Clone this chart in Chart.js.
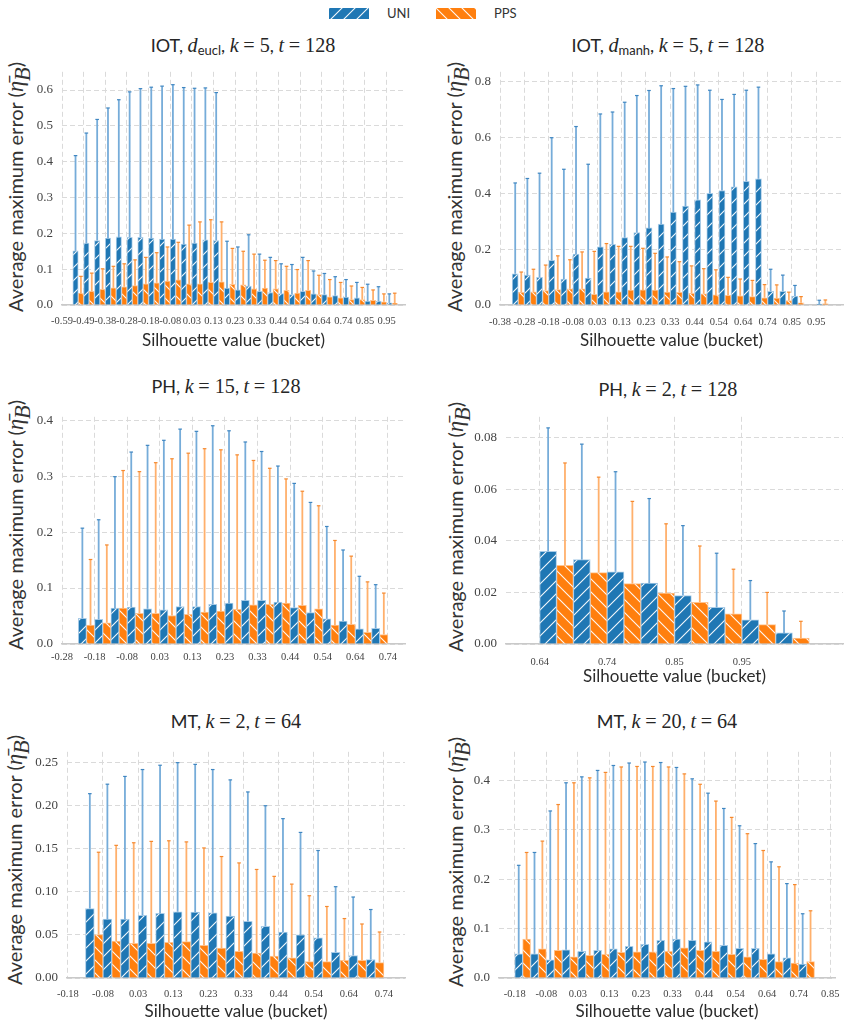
<!DOCTYPE html>
<html>
<head>
<meta charset="utf-8">
<script src="https://cdn.jsdelivr.net/npm/chart.js@4.4.1/dist/chart.umd.min.js"></script>
<style>
  body { margin:0; width:850px; height:1026px; position:relative; overflow:hidden; background:#fff; font-family:Lato, sans-serif; color:#262626; }
  canvas { position:absolute; }
  .title, .ylab, .leg { position:absolute; white-space:nowrap; }
  .title { font-size:18px; transform:translate(-50%,-50%); }
  .ylab { font-size:20px; color:#333; transform:translate(-50%,-50%) rotate(-90deg); }
  .m { font-family:'Liberation Serif', serif; font-style:italic; font-size:1.12em; }
  .r { font-family:'Liberation Serif', serif; font-size:1.12em; }
  sub { font-size:0.72em; vertical-align:-0.3em; line-height:0; }
  .leg { font-size:13px; top:5px; color:#333; }
</style>
</head>
<body>
<canvas id="swUni" width="40" height="11" style="left:329px;top:8px"></canvas>
<div class="leg" style="left:387px">UNI</div>
<canvas id="swPps" width="40" height="11" style="left:436px;top:8px"></canvas>
<div class="leg" style="left:494px">PPS</div>

<div class="title" style="left:243px;top:45px">IOT, <span class="m">d</span><sub>eucl</sub>, <span class="m">k</span> <span class="r">= 5</span>, <span class="m">t</span> <span class="r">= 128</span></div>
<div class="title" style="left:668px;top:45px">IOT, <span class="m">d</span><sub>manh</sub>, <span class="m">k</span> <span class="r">= 5</span>, <span class="m">t</span> <span class="r">= 128</span></div>
<div class="title" style="left:226px;top:386px">PH, <span class="m">k</span> <span class="r">= 15</span>, <span class="m">t</span> <span class="r">= 128</span></div>
<div class="title" style="left:668px;top:389px">PH, <span class="m">k</span> <span class="r">= 2</span>, <span class="m">t</span> <span class="r">= 128</span></div>
<div class="title" style="left:236px;top:721px">MT, <span class="m">k</span> <span class="r">= 2</span>, <span class="m">t</span> <span class="r">= 64</span></div>
<div class="title" style="left:667px;top:721px">MT, <span class="m">k</span> <span class="r">= 20</span>, <span class="m">t</span> <span class="r">= 64</span></div>

<div class="ylab" style="left:16px;top:187px">Average maximum error (<span class="m">η̄</span><sub class="m">B</sub>)</div>
<div class="ylab" style="left:455px;top:187px">Average maximum error (<span class="m">η̄</span><sub class="m">B</sub>)</div>
<div class="ylab" style="left:16px;top:525px">Average maximum error (<span class="m">η̄</span><sub class="m">B</sub>)</div>
<div class="ylab" style="left:456px;top:527px">Average maximum error (<span class="m">η̄</span><sub class="m">B</sub>)</div>
<div class="ylab" style="left:15px;top:860px">Average maximum error (<span class="m">η̄</span><sub class="m">B</sub>)</div>
<div class="ylab" style="left:456px;top:862px">Average maximum error (<span class="m">η̄</span><sub class="m">B</sub>)</div>

<canvas id="c1" width="425" height="305" style="left:0px;top:55px"></canvas>
<canvas id="c2" width="425" height="305" style="left:425px;top:55px"></canvas>
<canvas id="c3" width="425" height="300" style="left:0px;top:400px"></canvas>
<canvas id="c4" width="425" height="300" style="left:425px;top:400px"></canvas>
<canvas id="c5" width="425" height="291" style="left:0px;top:735px"></canvas>
<canvas id="c6" width="425" height="291" style="left:425px;top:735px"></canvas>

<script>
// bucket edges: silhouette range split into 39 buckets
const bucketEdges = ['-1.00','-0.95','-0.90','-0.85','-0.79','-0.74','-0.69','-0.64','-0.59','-0.54',
  '-0.49','-0.44','-0.38','-0.33','-0.28','-0.23','-0.18','-0.13','-0.08','-0.03',
  '0.03','0.08','0.13','0.18','0.23','0.28','0.33','0.38','0.44','0.49',
  '0.54','0.59','0.64','0.69','0.74','0.79','0.85','0.90','0.95','1.00'];

// IOT, d_eucl, k=5, t=128
const iotEuclBuckets = bucketEdges.slice(9, 39);
const iotEuclTicks = ['-0.59','-0.49','-0.38','-0.28','-0.18','-0.08','0.03','0.13','0.23','0.33','0.44','0.54','0.64','0.74','0.85','0.95'];
const iotEuclUni = [0.151,0.173,0.18,0.187,0.19,0.189,0.189,0.187,0.184,0.184,0.17,0.173,0.182,0.18,
  0.047,0.042,0.053,0.038,0.035,0.032,0.029,0.038,0.031,0.029,0.026,0.022,0.02,0.011,0.011,0.006];
const iotEuclUniErr = [0.417,0.48,0.518,0.55,0.573,0.595,0.604,0.608,0.611,0.615,0.607,0.605,0.606,0.593,
  0.178,0.162,0.196,0.142,0.133,0.115,0.113,0.133,0.095,0.088,0.079,0.071,0.063,0.058,0.051,0.031];
const iotEuclPps = [0.033,0.038,0.044,0.048,0.051,0.054,0.059,0.062,0.067,0.07,0.059,0.059,0.063,0.065,
  0.058,0.056,0.045,0.047,0.045,0.041,0.033,0.041,0.029,0.023,0.02,0.015,0.015,0.013,0.009,0.005];
const iotEuclPpsErr = [0.08,0.089,0.101,0.108,0.115,0.126,0.133,0.146,0.162,0.175,0.223,0.232,0.238,0.232,
  0.158,0.15,0.142,0.125,0.124,0.108,0.099,0.124,0.083,0.071,0.063,0.053,0.049,0.042,0.031,0.033];

// IOT, d_manh, k=5, t=128
const iotManhBuckets = bucketEdges.slice(13, 39);
const iotManhTicks = ['-0.38','-0.28','-0.18','-0.08','0.03','0.13','0.23','0.33','0.44','0.54','0.64','0.74','0.85','0.95'];
const iotManhUni = [0.112,0.107,0.099,0.16,0.093,0.182,0.096,0.208,0.217,0.241,0.259,0.276,0.29,0.333,
  0.354,0.377,0.40,0.41,0.423,0.443,0.452,0.049,0.049,0.032,null,0.003];
const iotManhUniErr = [0.437,0.453,0.472,0.599,0.486,0.639,0.504,0.684,0.691,0.726,0.75,0.768,0.785,0.775,
  0.783,0.788,0.769,0.736,0.754,0.769,0.78,0.128,0.107,0.07,null,0.017];
const iotManhPps = [0.045,0.047,0.052,0.055,0.058,0.058,0.038,0.047,0.047,0.053,0.054,0.053,0.046,0.045,
  0.042,0.04,0.036,0.035,0.033,0.03,0.026,0.025,0.016,0.008,null,0.004];
const iotManhPpsErr = [0.118,0.128,0.143,0.176,0.162,0.19,0.192,0.22,0.21,0.21,0.203,0.185,0.172,0.155,
  0.14,0.13,0.126,0.099,0.093,0.088,0.073,0.072,0.046,0.03,null,0.018];

// PH, k=15, t=128
const ph15Buckets = bucketEdges.slice(15, 34);
const ph15Ticks = ['-0.28','-0.18','-0.08','0.03','0.13','0.23','0.33','0.44','0.54','0.64','0.74'];
const ph15Uni = [0.046,0.044,0.064,0.066,0.063,0.061,0.067,0.067,0.071,0.073,0.078,0.078,0.075,0.065,0.056,0.045,0.041,0.027,0.028];
const ph15UniErr = [0.207,0.222,0.299,0.343,0.355,0.364,0.384,0.38,0.39,0.381,0.361,0.344,0.318,0.287,0.253,0.21,0.168,0.121,0.106];
const ph15Pps = [0.034,0.038,0.064,0.055,0.055,0.051,0.053,0.057,0.059,0.062,0.07,0.071,0.073,0.069,0.063,0.034,0.035,0.021,0.017];
const ph15PpsErr = [0.151,0.177,0.31,0.308,0.324,0.331,0.341,0.349,0.347,0.338,0.328,0.314,0.295,0.273,0.247,0.185,0.157,0.111,0.091];

// PH, k=2, t=128
const ph2Buckets = bucketEdges.slice(32, 40);
const ph2Ticks = ['0.64','0.74','0.85','0.95'];
const ph2Uni = [0.0359,0.0327,0.028,0.0236,0.0188,0.0142,0.0094,0.0043];
const ph2UniErr = [0.0838,0.0775,0.0668,0.0564,0.0459,0.0352,0.0246,0.0128];
const ph2Pps = [0.0305,0.0277,0.0234,0.0197,0.0162,0.0117,0.0075,0.0023];
const ph2PpsErr = [0.0702,0.0647,0.0553,0.0466,0.038,0.029,0.02,0.0088];

// MT, k=2, t=64
const mt2Buckets = bucketEdges.slice(17, 34);
const mt2Ticks = ['-0.18','-0.08','0.03','0.13','0.23','0.33','0.44','0.54','0.64','0.74'];
const mt2Uni = [0.0806,0.0683,0.0683,0.0728,0.075,0.0769,0.0765,0.0757,0.072,0.0657,0.06,0.0534,0.05,0.0466,0.0299,0.0261,0.0213];
const mt2UniErr = [0.214,0.225,0.234,0.242,0.247,0.25,0.248,0.242,0.23,0.216,0.2,0.185,0.169,0.148,0.106,0.094,0.0795];
const mt2Pps = [0.0504,0.0429,0.0403,0.0403,0.0414,0.0422,0.038,0.0347,0.031,0.029,0.0254,0.0235,0.019,0.019,0.0205,0.0205,0.0179];
const mt2PpsErr = [0.146,0.154,0.157,0.1586,0.1593,0.158,0.151,0.141,0.1336,0.126,0.118,0.109,0.0955,0.083,0.069,0.0627,0.0534];

// MT, k=20, t=64
const mt20Buckets = bucketEdges.slice(16, 35);
const mt20Ticks = ['-0.18','-0.08','0.03','0.13','0.23','0.33','0.44','0.54','0.64','0.74','0.85'];
const mt20Uni = [0.049,0.049,0.037,0.057,0.054,0.056,0.059,0.064,0.068,0.076,0.079,0.076,0.073,0.066,0.06,0.06,0.049,0.041,0.028];
const mt20UniErr = [0.228,0.254,0.338,0.395,0.407,0.42,0.43,0.435,0.437,0.436,0.426,0.403,0.374,0.343,0.308,0.272,0.235,0.191,0.13];
const mt20Pps = [0.079,0.059,0.056,0.043,0.046,0.048,0.052,0.053,0.053,0.054,0.061,0.056,0.054,0.048,0.043,0.038,0.033,0.03,0.033];
const mt20PpsErr = [0.254,0.277,0.351,0.395,0.405,0.416,0.427,0.428,0.428,0.427,0.413,0.392,0.358,0.325,0.292,0.258,0.225,0.189,0.136];

const UNI_COLOR = '#1f77b4';
const PPS_COLOR = '#ff7f0e';
const gridColor = '#dadada';

function hatch(color, forward) {
  const s = 13;
  const c = document.createElement('canvas');
  c.width = s; c.height = s;
  const g = c.getContext('2d');
  g.fillStyle = color;
  g.fillRect(0, 0, s, s);
  g.strokeStyle = 'rgba(255,255,255,0.95)';
  g.lineWidth = 1.1;
  g.beginPath();
  if (forward) {
    g.moveTo(-1, s + 1); g.lineTo(s + 1, -1);
    g.moveTo(-1, 1); g.lineTo(1, -1);
    g.moveTo(s - 1, s + 1); g.lineTo(s + 1, s - 1);
  } else {
    g.moveTo(-1, -1); g.lineTo(s + 1, s + 1);
    g.moveTo(s - 1, -1); g.lineTo(s + 1, 1);
    g.moveTo(-1, s - 1); g.lineTo(1, s + 1);
  }
  g.stroke();
  return g.createPattern(c, 'repeat');
}

const uniHatch = hatch(UNI_COLOR, true);
const ppsHatch = hatch(PPS_COLOR, false);

function swatch(id, pat) {
  const g = document.getElementById(id).getContext('2d');
  g.fillStyle = pat;
  g.fillRect(0, 0, 40, 11);
}
swatch('swUni', uniHatch);
swatch('swPps', ppsHatch);

// one-sided error bars on top of each bar
const errorBars = {
  id: 'errorBars',
  afterDatasetsDraw(chart) {
    const ctx = chart.ctx;
    const y = chart.scales.y;
    chart.data.datasets.forEach((ds, di) => {
      const meta = chart.getDatasetMeta(di);
      meta.data.forEach((bar, i) => {
        const top = ds.errTop[i];
        if (top == null || ds.data[i].y == null) return;
        const yTop = y.getPixelForValue(top);
        ctx.save();
        ctx.strokeStyle = ds.errColor;
        ctx.lineWidth = 1.8;
        ctx.beginPath();
        ctx.moveTo(bar.x, bar.y);
        ctx.lineTo(bar.x, yTop);
        ctx.stroke();
        ctx.strokeStyle = ds.capColor;
        ctx.lineWidth = 1.2;
        ctx.beginPath();
        ctx.moveTo(bar.x - 1.8, yTop);
        ctx.lineTo(bar.x + 1.8, yTop);
        ctx.stroke();
        ctx.restore();
      });
    });
  }
};

function panel(id, s) {
  const tickIdx = s.ticks.map(t => bucketEdges.indexOf(t));
  const xs = s.buckets.map(b => bucketEdges.indexOf(b) + 0.5);
  const series = vals => xs.map((x, i) => ({ x: x, y: vals[i] }));

  new Chart(document.getElementById(id), {
    type: 'bar',
    data: {
      datasets: [
        { label: 'UNI', data: series(s.uni), errTop: s.uniErr,
          backgroundColor: uniHatch, borderColor: '#a9cce8', borderWidth: 1,
          errColor: '#76acd9', capColor: '#3f86c1' },
        { label: 'PPS', data: series(s.pps), errTop: s.ppsErr,
          backgroundColor: ppsHatch, borderColor: '#ffc490', borderWidth: 1,
          errColor: '#ffb06c', capColor: '#f5892e' }
      ]
    },
    options: {
      responsive: false,
      animation: false,
      devicePixelRatio: 1,
      categoryPercentage: 1,
      barPercentage: 1,
      layout: { padding: { top: s.padTop, right: s.padRight, left: 0, bottom: 0 } },
      plugins: { legend: { display: false }, tooltip: { enabled: false } },
      scales: {
        x: {
          type: 'linear', min: s.xMin, max: s.xMax, offset: false,
          grid: { color: gridColor, drawTicks: false, offset: false },
          border: { display: true, color: '#c9c9c9', width: 1.5, dash: [5, 3] },
          ticks: {
            autoSkip: false, maxRotation: 0, padding: s.tickPad, color: '#444',
            font: { family: 'Liberation Serif', size: 10.5 },
            callback: v => bucketEdges[v]
          },
          afterBuildTicks: sc => { sc.ticks = tickIdx.map(v => ({ value: v })); },
          afterFit: sc => { sc.height = s.xH; },
          title: {
            display: s.xTitle, text: 'Silhouette value (bucket)', color: '#2b2b2b',
            font: { family: 'Lato', size: 17 }, padding: { top: 0, bottom: s.titlePad }
          }
        },
        y: {
          min: 0, max: s.yMax,
          grid: { color: gridColor, drawTicks: false },
          border: { display: false, dash: [5, 3] },
          ticks: {
            stepSize: s.yStep, includeBounds: false, padding: 9, color: '#444',
            font: { family: 'Liberation Serif', size: 13 },
            callback: v => v.toFixed(s.yDec)
          },
          afterFit: sc => { sc.width = s.yW; }
        }
      }
    },
    plugins: [errorBars]
  });
}

panel('c1', { buckets: iotEuclBuckets, ticks: iotEuclTicks, uni: iotEuclUni, uniErr: iotEuclUniErr, pps: iotEuclPps, ppsErr: iotEuclPpsErr,
  xMin: 8, xMax: 39.7, yMax: 0.651, yStep: 0.1, yDec: 1,
  yW: 62, padTop: 10, padRight: 20, xH: 55, tickPad: 10, xTitle: true, titlePad: 9 });
panel('c2', { buckets: iotManhBuckets, ticks: iotManhTicks, uni: iotManhUni, uniErr: iotManhUniErr, pps: iotManhPps, ppsErr: iotManhPpsErr,
  xMin: 12, xMax: 40.2, yMax: 0.835, yStep: 0.2, yDec: 1,
  yW: 75, padTop: 10, padRight: 7, xH: 55, tickPad: 11, xTitle: true, titlePad: 9 });
panel('c3', { buckets: ph15Buckets, ticks: ph15Ticks, uni: ph15Uni, uniErr: ph15UniErr, pps: ph15Pps, ppsErr: ph15PpsErr,
  xMin: 14, xMax: 35.05, yMax: 0.406, yStep: 0.1, yDec: 1,
  yW: 62, padTop: 7, padRight: 20, xH: 56, tickPad: 7, xTitle: false, titlePad: 0 });
panel('c4', { buckets: ph2Buckets, ticks: ph2Ticks, uni: ph2Uni, uniErr: ph2UniErr, pps: ph2Pps, ppsErr: ph2PpsErr,
  xMin: 31, xMax: 41, yMax: 0.0881, yStep: 0.02, yDec: 2,
  yW: 81, padTop: 10, padRight: 7, xH: 56, tickPad: 12, xTitle: true, titlePad: 13 });
panel('c5', { buckets: mt2Buckets, ticks: mt2Ticks, uni: mt2Uni, uniErr: mt2UniErr, pps: mt2Pps, ppsErr: mt2PpsErr,
  xMin: 15.95, xMax: 35.2, yMax: 0.2626, yStep: 0.05, yDec: 2,
  yW: 67, padTop: 8, padRight: 20, xH: 48, tickPad: 10, xTitle: true, titlePad: 4 });
panel('c6', { buckets: mt20Buckets, ticks: mt20Ticks, uni: mt20Uni, uniErr: mt20UniErr, pps: mt20Pps, ppsErr: mt20PpsErr,
  xMin: 15, xMax: 36.3, yMax: 0.4577, yStep: 0.1, yDec: 1,
  yW: 74, padTop: 10, padRight: 15, xH: 48, tickPad: 10, xTitle: true, titlePad: 4 });
</script>
</body>
</html>
